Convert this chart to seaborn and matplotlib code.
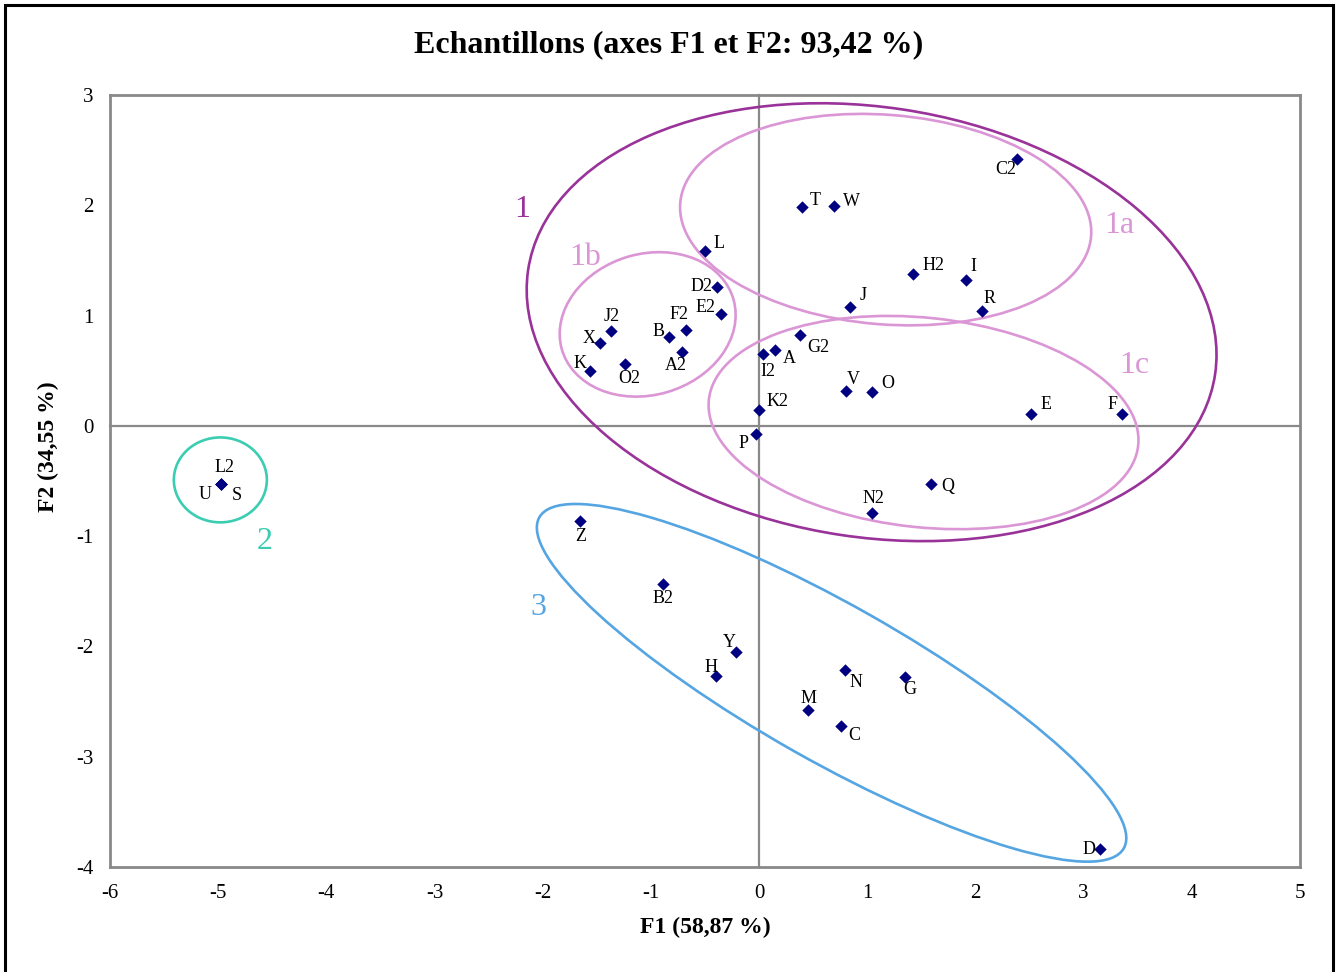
import numpy as np
import pandas as pd
import matplotlib
matplotlib.use("Agg")
import matplotlib.pyplot as plt
from matplotlib.patches import Ellipse, Rectangle
import seaborn as sns

labels = ['C2', 'T', 'W', 'L', 'H2', 'I', 'J', 'R', 'D2', 'E2', 'J2', 'F2', 'B',
          'X', 'A2', 'O2', 'K', 'G2', 'A', 'I2', 'V', 'O', 'K2', 'P', 'E', 'F',
          'N2', 'Q', 'L2', 'U', 'S', 'Z', 'B2', 'Y', 'H', 'N', 'G', 'M', 'C', 'D']
f1 = [2.38, 0.40, 0.69, -0.50, 1.42, 1.91, 0.84, 2.06, -0.39, -0.35, -1.37, -0.68, -0.83,
      -1.47, -0.71, -1.24, -1.56, 0.38, 0.15, 0.04, 0.80, 1.04, 0.00, -0.03, 2.51, 3.35,
      1.04, 1.59, -4.97, -4.97, -4.97, -1.66, -0.89, -0.21, -0.40, 0.79, 1.35, 0.45, 0.76, 3.15]
f2 = [2.42, 1.98, 1.99, 1.59, 1.38, 1.32, 1.08, 1.04, 1.26, 1.01, 0.86, 0.87, 0.81,
      0.75, 0.67, 0.56, 0.50, 0.82, 0.69, 0.65, 0.32, 0.31, 0.14, -0.07, 0.11, 0.11,
      -0.79, -0.53, -0.53, -0.53, -0.53, -0.86, -1.43, -2.05, -2.27, -2.21, -2.28, -2.58, -2.72, -3.84]

# label offsets in pixels (dx, dy)
label_offsets = [(-11, -11), (13, 7), (18, 5), (14, 7), (21, 8), (8, 14), (13, 11), (8, 13),
                 (-15, 0), (-16, 7), (1, 15), (-7, 15), (-11, 5), (-11, 5), (-6, -14), (4, -14),
                 (-10, 7), (18, -12), (14, -9), (4, -17), (8, 11), (16, 8), (18, 9), (-12, -10),
                 (15, 9), (-9, 9), (2, 14), (17, -2), (3, 17), (-16, -10), (15, -11), (1, -16),
                 (0, -15), (-7, 9), (-5, 9), (11, -13), (5, -12), (1, 12), (13, -10), (-11, 0)]

# groups drawn by hand on the original chart
groups = ['1', '1a', '1b', '1c', '2', '3']
group_colors = ['#993399', '#DB96D6', '#DB96D6', '#DB96D6', '#3BCDB1', '#55A5E2']
group_ellipses = [((1.04, 0.94), 6.42, 3.90, -8.4),
                  ((1.17, 1.87), 3.81, 1.90, -4.5),
                  ((-1.03, 0.92), 1.65, 1.28, 15.5),
                  ((1.52, 0.03), 3.99, 1.90, -5.9),
                  ((-4.98, -0.49), 0.86, 0.77, 0),
                  ((0.67, -2.33), 6.18, 1.42, -29.0)]
group_label_pos = [(-2.19, 1.96), (3.33, 1.82), (-1.61, 1.53), (3.47, 0.55), (-4.57, -1.05), (-2.04, -1.65)]

xticks = list(range(-6, 6))
yticks = list(range(-4, 4))

df = pd.DataFrame({'label': labels, 'F1': f1, 'F2': f2})

sns.set_style('white')
plt.rcParams['font.family'] = ['Liberation Serif', 'DejaVu Serif']
plt.rcParams['axes.unicode_minus'] = False
for key in ['text.color', 'axes.labelcolor', 'xtick.color', 'ytick.color']:
    plt.rcParams[key] = 'black'

gray = '#898989'
rect = [110 / 1338, 1 - 867 / 972, 1190 / 1338, 772 / 972]

fig = plt.figure(figsize=(13.38, 9.72), dpi=100)
ax = fig.add_axes(rect)
ax.set_xlim(-6, 5)
ax.set_ylim(-4, 3)
ax.set_xticks(xticks)
ax.set_yticks(yticks)
for s in ax.spines.values():
    s.set_color(gray)
    s.set_linewidth(2)
ax.tick_params(length=0, labelsize=15, pad=12)
ax.set_xlabel('F1 (58,87 %)', fontsize=17, fontweight='bold', ha='center', va='center')
ax.set_ylabel('F2 (34,55 %)', fontsize=17, fontweight='bold', ha='center', va='center')
ax.xaxis.set_label_coords(0.5, -0.0777)
ax.yaxis.set_label_coords(-0.0521, 0.544)

# overlay with axes crossing at zero
ax0 = fig.add_axes(rect, facecolor='none')
ax0.set_xlim(-6, 5)
ax0.set_ylim(-4, 3)
ax0.set_xticks(xticks)
ax0.set_yticks(yticks)
ax0.spines['left'].set_position(('data', 0))
ax0.spines['bottom'].set_position(('data', 0))
ax0.spines['top'].set_visible(False)
ax0.spines['right'].set_visible(False)
for side in ['left', 'bottom']:
    ax0.spines[side].set_color(gray)
    ax0.spines[side].set_linewidth(1.6)
ax0.tick_params(direction='inout', length=10, width=1.6, color=gray,
                labelleft=False, labelbottom=False)

for (c, w, h, ang), col in zip(group_ellipses, group_colors):
    ax0.add_patch(Ellipse(c, w, h, angle=ang, fill=False, edgecolor=col, linewidth=1.9, zorder=3))
for g, (gx, gy), col in zip(groups, group_label_pos, group_colors):
    ax0.text(gx, gy, g, color=col, fontsize=23, ha='center', va='center', zorder=4)

sns.scatterplot(data=df, x='F1', y='F2', marker='D', color='#000080', s=40,
                linewidth=0, legend=False, ax=ax0, zorder=5)
ax0.set_xlabel('')
ax0.set_ylabel('')

for lab, x, y, (dx, dy) in zip(labels, f1, f2, label_offsets):
    ax0.annotate(lab, (x, y), xytext=(dx, dy), textcoords='offset pixels',
                 ha='center', va='center', fontsize=13, zorder=6)

fig.suptitle('Echantillons (axes F1 et F2: 93,42 %)', x=0.5, y=1 - 45 / 972,
             va='center', fontsize=23, fontweight='bold')

fig.patches.append(Rectangle((5 / 1338, -0.01), 1328 / 1338, 1.01 - 5 / 972,
                             transform=fig.transFigure, fill=False,
                             edgecolor='black', linewidth=2.2))

fig.savefig('out.png', dpi=100)
